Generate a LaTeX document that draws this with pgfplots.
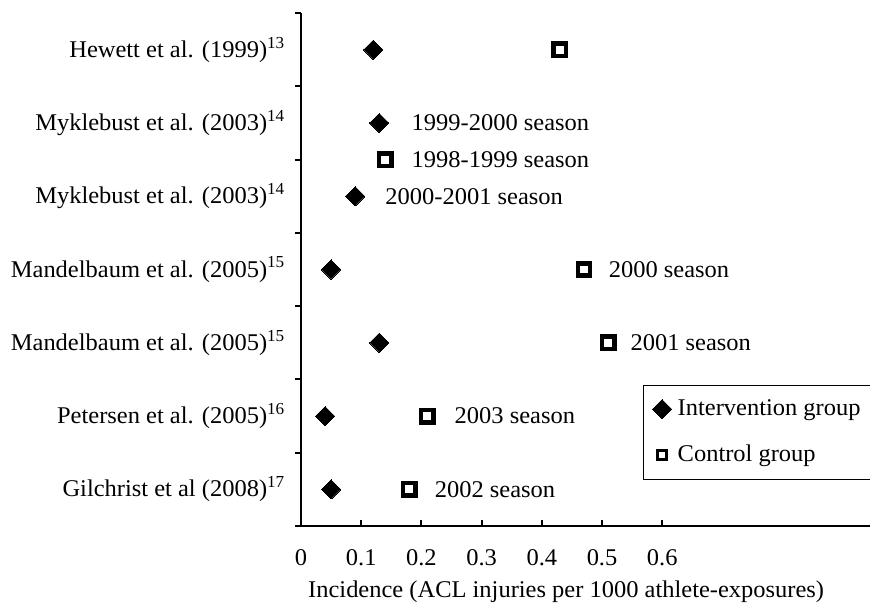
\documentclass[border=0pt]{standalone}
\usepackage{fontspec}
\setmainfont{Liberation Serif}[FakeStretch=1.02]
\usepackage{pgfplots}
\pgfplotsset{compat=1.18}
\begin{document}
\fontsize{24}{28}\selectfont
\begin{tikzpicture}
\begin{axis}[
  scale only axis, width=569pt, height=513pt,
  xmin=0, xmax=0.945, ymin=0, ymax=7,
  axis x line*=bottom, axis y line*=left,
  axis line style={line width=2pt, -},
  tick align=inside,
  major tick length=6pt,
  every tick/.style={line width=2pt, black},
  xtick={0,0.1,0.2,0.3,0.4,0.5,0.6},
  xticklabels={0,0.1,0.2,0.3,0.4,0.5,0.6},
  xticklabel style={yshift=-15pt},
  ytick={0,1,2,3,4,5,6,7},
  yticklabels={},
  y tick style={xshift=-6pt},
  extra y ticks={0.5,1.5,2.5,3.5,4.5,5.5,6.5},
  extra y tick labels={Gilchrist et al (2008)\textsuperscript{17},Petersen et al. (2005)\textsuperscript{16},Mandelbaum et al. (2005)\textsuperscript{15},Mandelbaum et al. (2005)\textsuperscript{15},Myklebust et al. (2003)\textsuperscript{14},Myklebust et al. (2003)\textsuperscript{14},Hewett et al. (1999)\textsuperscript{13}},
  extra y tick style={major tick length=0pt, yticklabel style={xshift=-8pt}},
  /pgf/number format/assume math mode=true,
  ticklabel style={font=\fontsize{24}{28}\selectfont},
  xlabel={Incidence (ACL injuries per 1000 athlete-exposures)},
  xlabel style={at={(rel axis cs:0.466,0)}, anchor=north, yshift=-47pt, font=\fontsize{24}{28}\selectfont},
  clip=false,
  legend cell align=left,
  legend style={at={(rel axis cs:0.601,0.275)}, anchor=north west, draw=black, line width=1pt, row sep=22pt, inner xsep=9pt, inner ysep=12pt, font=\fontsize{24}{28}\selectfont},
]
\addplot[only marks, mark=square*, mark size=6.8pt, mark options={rotate=45, fill=black, draw=black, line width=0pt},
  legend image code/.code={\draw[mark=square*, mark size=6.8pt, mark options={rotate=45, fill=black, draw=black, line width=0pt}] plot coordinates {(0pt,0pt)};}]
  coordinates {(0.12,6.5) (0.13,5.5) (0.09,4.5) (0.05,3.5) (0.13,2.5) (0.04,1.5) (0.05,0.5)};
\addlegendentry{\hspace*{4pt}Intervention group\hspace*{12pt}}
\addplot[only marks, mark=square, mark size=6.2pt, mark options={draw=black, line width=4.5pt},
  legend image code/.code={\draw[mark=square, mark size=4.5pt, mark options={draw=black, line width=3.8pt}] plot coordinates {(0pt,0pt)};}]
  coordinates {(0.43,6.5) (0.14,5.0) (0.47,3.5) (0.51,2.5) (0.21,1.5) (0.18,0.5)};
\addlegendentry{\hspace*{4pt}Control group}
\node[anchor=west, inner sep=0pt] at (axis cs:0.1836,5.5) {1999-2000 season};
\node[anchor=west, inner sep=0pt] at (axis cs:0.1836,5.0) {1998-1999 season};
\node[anchor=west, inner sep=0pt] at (axis cs:0.140,4.5) {2000-2001 season};
\node[anchor=west, inner sep=0pt] at (axis cs:0.511,3.5) {2000 season};
\node[anchor=west, inner sep=0pt] at (axis cs:0.547,2.5) {2001 season};
\node[anchor=west, inner sep=0pt] at (axis cs:0.255,1.5) {2003 season};
\node[anchor=west, inner sep=0pt] at (axis cs:0.222,0.5) {2002 season};
\end{axis}
\pgfresetboundingbox
\path[use as bounding box] (-301pt,-78pt) rectangle (569pt,526pt);
\end{tikzpicture}
\end{document}
